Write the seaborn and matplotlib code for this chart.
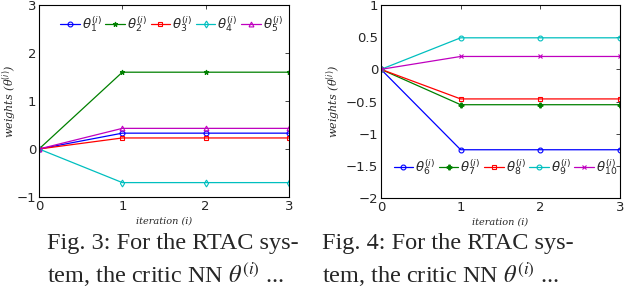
import matplotlib

matplotlib.use("Agg")
import matplotlib.pyplot as plt
import numpy as np
import pandas as pd
import seaborn as sns

iterations = [0, 1, 2, 3]

# Fig. 3: critic weights theta_1..theta_5
theta_left = {
    1: [0.0, 0.33, 0.33, 0.33],
    2: [0.0, 1.60, 1.60, 1.60],
    3: [0.0, 0.23, 0.23, 0.23],
    4: [0.0, -0.70, -0.70, -0.70],
    5: [0.0, 0.43, 0.43, 0.43],
}
# Fig. 4: critic weights theta_6..theta_10
theta_right = {
    6: [0.0, -1.25, -1.25, -1.25],
    7: [0.0, -0.55, -0.55, -0.55],
    8: [0.0, -0.46, -0.46, -0.46],
    9: [0.0, 0.49, 0.49, 0.49],
    10: [0.0, 0.20, 0.20, 0.20],
}

left_yticks = [-1, 0, 1, 2, 3]
left_yticklabels = ["\u22121", "0", "1", "2", "3"]
right_yticks = [-2, -1.5, -1, -0.5, 0, 0.5, 1]
right_yticklabels = ["\u22122", "\u22121.5", "\u22121", "\u22120.5", "0", "0.5", "1"]

colors = ["#0000ff", "#008000", "#ff0000", "#00bfbf", "#bf00bf"]
markers_left = ["o", "*", "s", "d", "^"]
markers_right = ["o", "P", "s", "o", "x"]

sns.set_style("white")
plt.rcParams["font.family"] = ["DejaVu Sans"]
plt.rcParams["mathtext.fontset"] = "dejavusans"

fig = plt.figure(figsize=(6.4, 2.91), dpi=100)
ax1 = fig.add_axes([39 / 640, 1 - 197 / 291, 250 / 640, 192 / 291])
ax2 = fig.add_axes([381 / 640, 1 - 198 / 291, 239 / 640, 193 / 291])


def draw(ax, data, markers):
    for (k, vals), color, mk in zip(data.items(), colors, markers):
        df = pd.DataFrame({"it": iterations, "w": vals})
        sns.lineplot(
            data=df, x="it", y="w", ax=ax, color=color, marker=mk,
            markersize=3.5, markerfacecolor="none" if mk in "osd^" else color,
            markeredgecolor=color, markeredgewidth=0.8, linewidth=0.9,
            label=r"$\theta^{(i)}_{%d}$" % k,
        )
    ax.set_xlim(0, 3)
    ax.set_xticks([0, 1, 2, 3])
    ax.tick_params(direction="in", top=True, right=True, labelsize=9.5,
                   length=3, width=0.6, pad=2)
    for s in ax.spines.values():
        s.set_linewidth(0.8)
        s.set_color("black")
    ax.set_xlabel("iteration (i)", fontsize=7, style="italic",
                  family="DejaVu Serif", labelpad=3)
    ax.set_ylabel(r"weights (θ$^{(i)}$)", fontsize=8, style="italic",
                  family="DejaVu Serif")


legend_kw = dict(ncol=5, frameon=False, fontsize=9.5, handlelength=1.5,
                 columnspacing=0.25, handletextpad=0.15, borderaxespad=0.0)

draw(ax1, theta_left, markers_left)
ax1.set_ylim(-1, 3)
ax1.set_yticks(left_yticks)
ax1.set_yticklabels(left_yticklabels)
ax1.yaxis.set_label_coords(-0.08, 0.5)
ax1.legend(loc="upper center", bbox_to_anchor=(0.53, 0.98), **legend_kw)

draw(ax2, theta_right, markers_right)
ax2.set_ylim(-2, 1)
ax2.set_yticks(right_yticks)
ax2.set_yticklabels(right_yticklabels)
ax2.yaxis.set_label_coords(-0.16, 0.5)
ax2.legend(loc="center", bbox_to_anchor=(0.52, 0.16), **legend_kw)

cap = dict(fontsize=17.5, family="Liberation Serif", va="baseline",
           math_fontfamily="stix")
fig.text(47 / 640, 1 - 249 / 291, "Fig. 3: For the RTAC sys-", **cap)
fig.text(322 / 640, 1 - 249 / 291, "Fig. 4: For the RTAC sys-", **cap)
fig.text(47 / 640, 1 - 283 / 291, r"tem, the critic NN $\theta^{(i)}$ ...", **cap)
fig.text(322 / 640, 1 - 283 / 291, r"tem, the critic NN $\theta^{(i)}$ ...", **cap)

fig.savefig("out.png", dpi=100)
